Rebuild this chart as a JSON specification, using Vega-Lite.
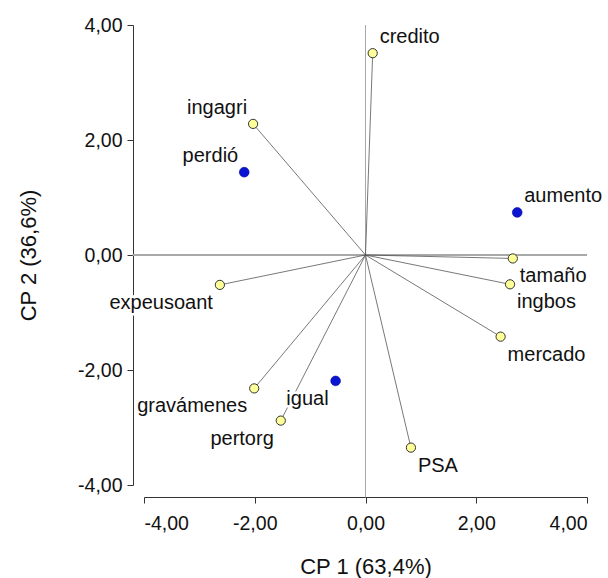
{
  "$schema": "https://vega.github.io/schema/vega-lite/v6.json",
  "width": 443,
  "height": 460,
  "autosize": "none",
  "padding": {"left": 144, "top": 25, "right": 21, "bottom": 93},
  "background": "white",
  "config": {
    "view": {"stroke": null},
    "font": "Liberation Sans",
    "axis": {
      "grid": false,
      "domainColor": "#333333",
      "tickColor": "#333333",
      "tickSize": 6,
      "labelFont": "Liberation Sans",
      "labelFontSize": 19.5,
      "labelColor": "#111111",
      "titleFont": "Liberation Sans",
      "titleFontSize": 22,
      "titleFontWeight": "normal",
      "titleColor": "#111111"
    }
  },
  "data": {
    "values": [
      {"name": "credito", "x": 0.13, "y": 3.51, "tipo": "variable"},
      {"name": "ingagri", "x": -2.03, "y": 2.28, "tipo": "variable"},
      {"name": "expeusoant", "x": -2.63, "y": -0.52, "tipo": "variable"},
      {"name": "gravámenes", "x": -2.01, "y": -2.32, "tipo": "variable"},
      {"name": "pertorg", "x": -1.53, "y": -2.88, "tipo": "variable"},
      {"name": "PSA", "x": 0.82, "y": -3.35, "tipo": "variable"},
      {"name": "mercado", "x": 2.44, "y": -1.42, "tipo": "variable"},
      {"name": "ingbos", "x": 2.61, "y": -0.51, "tipo": "variable"},
      {"name": "tamaño", "x": 2.66, "y": -0.06, "tipo": "variable"},
      {"name": "perdió", "x": -2.19, "y": 1.44, "tipo": "categoria"},
      {"name": "aumento", "x": 2.74, "y": 0.74, "tipo": "categoria"},
      {"name": "igual", "x": -0.54, "y": -2.19, "tipo": "categoria"}
    ]
  },
  "encoding": {
    "x": {
      "field": "x", "type": "quantitative",
      "scale": {"domain": [-4, 4], "nice": false, "zero": false},
      "axis": {
        "values": [-4, -2, 0, 2, 4],
        "offset": 12,
        "labelPadding": 11,
        "titlePadding": 24,
        "labelExpr": "replace(replace(format(datum.value, '.2f'), '.', ','), '\u2212', '-')",
        "title": "CP 1 (63,4%)"
      }
    },
    "y": {
      "field": "y", "type": "quantitative",
      "scale": {"domain": [-4, 4], "nice": false, "zero": false},
      "axis": {
        "values": [-4, -2, 0, 2, 4],
        "offset": 11,
        "labelPadding": 5,
        "titlePadding": 37,
        "labelExpr": "replace(replace(format(datum.value, '.2f'), '.', ','), '\u2212', '-')",
        "title": "CP 2 (36,6%)"
      }
    }
  },
  "layer": [
    {
      "mark": {"type": "rule", "color": "#a8a8a8", "strokeWidth": 1},
      "encoding": {
        "x": {"datum": 0, "type": "quantitative"},
        "y": {"datum": -4.21, "type": "quantitative"},
        "y2": {"datum": 4}
      }
    },
    {
      "mark": {"type": "rule", "color": "#a8a8a8", "strokeWidth": 1},
      "encoding": {
        "y": {"datum": 0, "type": "quantitative"},
        "x": {"datum": -4.2, "type": "quantitative"},
        "x2": {"datum": 4}
      }
    },
    {
      "transform": [{"filter": "datum.tipo === 'variable'"}],
      "mark": {"type": "rule", "color": "#555555", "strokeWidth": 0.8},
      "encoding": {
        "x": {"datum": 0, "type": "quantitative"},
        "y": {"datum": 0, "type": "quantitative"},
        "x2": {"field": "x"},
        "y2": {"field": "y"}
      }
    },
    {
      "transform": [{"filter": "datum.tipo === 'variable'"}],
      "mark": {"type": "point", "filled": true, "fill": "#ffff99", "stroke": "#333333", "strokeWidth": 1, "size": 85, "shape": "circle", "opacity": 1}
    },
    {
      "transform": [{"filter": "datum.tipo === 'categoria'"}],
      "mark": {"type": "point", "filled": true, "fill": "#0a14d2", "stroke": "#0a0a90", "strokeWidth": 0.6, "size": 95, "shape": "circle", "opacity": 1}
    },
    {
      "transform": [{"filter": {"field": "name", "oneOf": ["credito", "aumento"]}}],
      "mark": {"type": "text", "align": "left", "baseline": "middle", "dx": 7, "dy": -16, "fontSize": 20, "font": "Liberation Sans", "color": "#111111"},
      "encoding": {"text": {"field": "name"}}
    },
    {
      "transform": [{"filter": {"field": "name", "oneOf": ["ingagri", "perdió"]}}],
      "mark": {"type": "text", "align": "right", "baseline": "middle", "dx": -6, "dy": -16, "fontSize": 20, "font": "Liberation Sans", "color": "#111111"},
      "encoding": {"text": {"field": "name"}}
    },
    {
      "transform": [{"filter": {"field": "name", "oneOf": ["tamaño", "ingbos", "mercado", "PSA"]}}],
      "mark": {"type": "text", "align": "left", "baseline": "middle", "dx": 7, "dy": 18, "fontSize": 20, "font": "Liberation Sans", "color": "#111111"},
      "encoding": {"text": {"field": "name"}}
    },
    {
      "transform": [{"filter": {"field": "name", "oneOf": ["igual", "expeusoant", "gravámenes", "pertorg"]}}],
      "mark": {"type": "text", "align": "right", "baseline": "middle", "dx": -7, "dy": 18, "fontSize": 20, "font": "Liberation Sans", "color": "#ffffff", "stroke": "#ffffff", "strokeWidth": 5},
      "encoding": {"text": {"field": "name"}}
    },
    {
      "transform": [{"filter": {"field": "name", "oneOf": ["igual", "expeusoant", "gravámenes", "pertorg"]}}],
      "mark": {"type": "text", "align": "right", "baseline": "middle", "dx": -7, "dy": 18, "fontSize": 20, "font": "Liberation Sans", "color": "#111111"},
      "encoding": {"text": {"field": "name"}}
    }
  ]
}
